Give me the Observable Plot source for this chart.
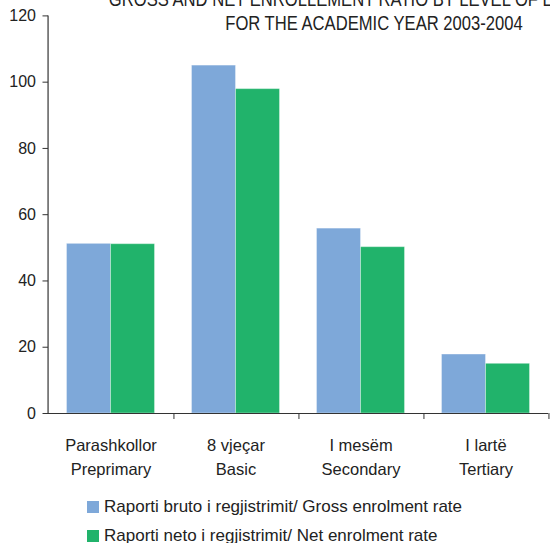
<!DOCTYPE html>
<html>
<head>
<meta charset="utf-8">
<script src="https://cdn.jsdelivr.net/npm/d3@7"></script>
<script src="https://cdn.jsdelivr.net/npm/@observablehq/plot@0.6"></script>
<style>
  html, body { margin: 0; padding: 0; overflow: hidden; background: #fff; }
  #wrap { position: relative; width: 550px; height: 543px; overflow: hidden; font-family: "Liberation Sans", Arial, sans-serif; color: #222; }
  #title { position: absolute; left: 373.5px; top: -13.45px; transform: translateX(-50%) scaleX(0.81); transform-origin: center; white-space: nowrap; text-align: center; font-size: 20.5px; line-height: 24.7px; color: #222; }
  #chart { position: absolute; left: 0; top: 0; }
  .row { position: absolute; left: 87.3px; height: 29px; display: flex; align-items: center; font-size: 17px; line-height: 29px; white-space: nowrap; }
  .sw { width: 12px; height: 12px; margin-right: 4.7px; flex: none; }
</style>
</head>
<body>
<div id="wrap">
  <div id="chart"></div>
  <div id="title"></div>
  <div id="legend"></div>
</div>
<script>
const titleLines = ["GROSS AND NET ENROLLEMENT RATIO BY LEVEL OF EDUCATION", "FOR THE ACADEMIC YEAR 2003-2004"];
const categories = ["Parashkollor\nPreprimary", "8 vjeçar\nBasic", "I mesëm\nSecondary", "I lartë\nTertiary"];
const series = ["Raporti bruto i regjistrimit/ Gross enrolment rate", "Raporti neto i regjistrimit/ Net enrolment rate"];
const grossRate = [51.2, 105.0, 55.8, 17.8];
const netRate = [51.1, 97.9, 50.2, 15.0];
const yTicks = [0, 20, 40, 60, 80, 100, 120];
const colors = ["#7ea8d9", "#21b36b"];

const data = [];
categories.forEach((c, i) => {
  data.push({category: c, series: series[0], value: grossRate[i]});
  data.push({category: c, series: series[1], value: netRate[i]});
});

document.getElementById("title").innerHTML = titleLines.map(t => `<div>${t}</div>`).join("");

const W = 550, H = 485, ML = 46.5, MR = 0, MT = 15.4, MB = 72;
const halfStep = (W - ML - MR) / categories.length / 2;
const innerH = H - MT - MB;

const chart = Plot.plot({
  width: W,
  height: H,
  marginTop: MT,
  marginBottom: MB,
  marginLeft: ML,
  marginRight: MR,
  style: {fontFamily: "'Liberation Sans', Arial, sans-serif", fontSize: "16px", color: "#222", background: "transparent"},
  fx: {domain: categories, padding: 0, label: null},
  x: {domain: series, paddingInner: 0, paddingOuter: 0.4, axis: null},
  y: {domain: [0, 120], label: null},
  color: {domain: series, range: colors},
  marks: [
    Plot.barY(data, {fx: "category", x: "series", y: "value", fill: "series", stroke: "white", strokeOpacity: 0.35, strokeWidth: 1}),
    Plot.ruleY([0], {stroke: "#333", strokeWidth: 1.2}),
    Plot.axisY({ticks: yTicks, tickSize: 5.5, tickPadding: 7, label: null, stroke: "#333", fontSize: 16}),
    Plot.axisFx({anchor: "bottom", ticks: [categories[0]], tickSize: -innerH, dx: -halfStep, tickFormat: () => "", label: null, stroke: "#333", strokeWidth: 1.2}),
    Plot.axisFx({anchor: "bottom", tickSize: 6, tickFormat: () => "", dx: halfStep, label: null, stroke: "#333"}),
    Plot.axisFx({anchor: "bottom", tickSize: 0, tickPadding: 20, label: null, fontSize: 16.5, lineHeight: 24 / 16.5})
  ]
});
document.getElementById("chart").appendChild(chart);

const legend = document.getElementById("legend");
series.forEach((s, i) => {
  const row = document.createElement("div");
  row.className = "row";
  row.style.top = (492.2 + i * 29) + "px";
  row.innerHTML = `<span class="sw" style="background:${colors[i]}"></span><span>${s}</span>`;
  legend.appendChild(row);
});
</script>
</body>
</html>
